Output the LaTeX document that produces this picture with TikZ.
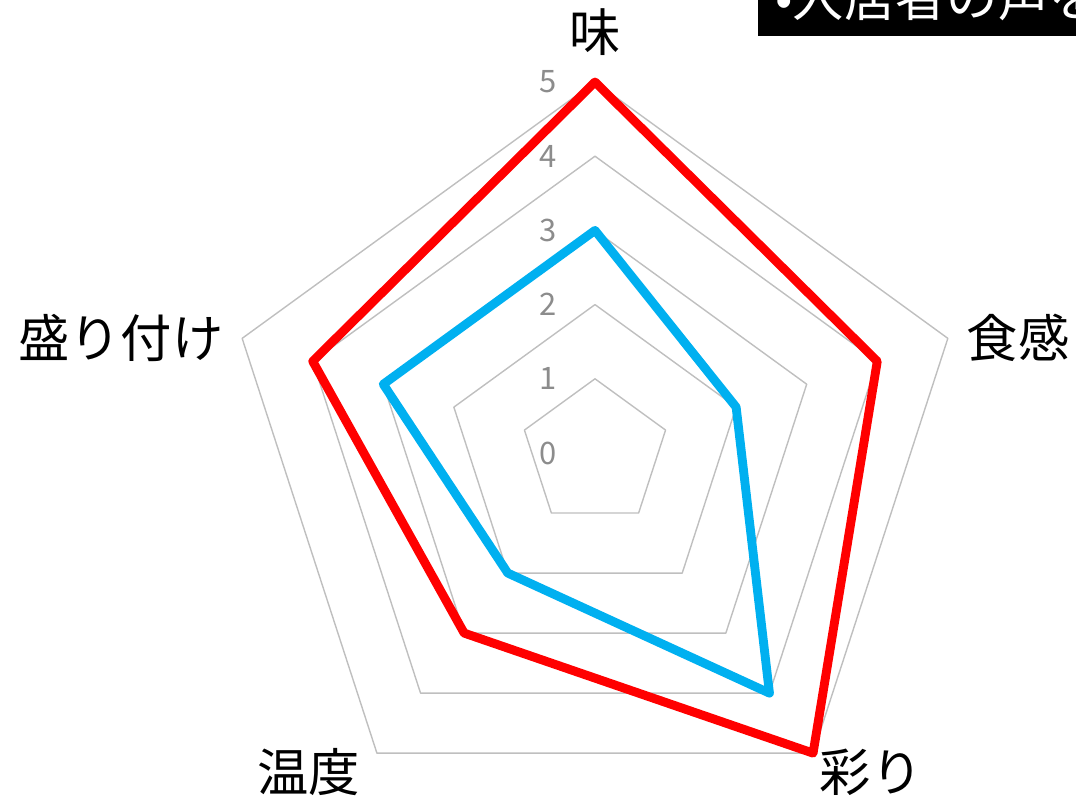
\documentclass[tikz,border=0pt]{standalone}
\usepackage{fontspec}
\setmainfont{Noto Sans CJK JP}
\usetikzlibrary{positioning}
\definecolor{gridgray}{HTML}{BFBFBF}
\definecolor{ticgray}{HTML}{8C8C8C}
\definecolor{seriesblue}{HTML}{00B0F0}
\definecolor{seriesred}{HTML}{FF0000}

\begin{document}
\begin{tikzpicture}[x=0.025cm, y=0.025cm,
        grid line/.style={gridgray, line width=1pt, line join=round},
        tick label/.style={ticgray, inner sep=0pt, font=\fontsize{22}{22}\selectfont},
        axis label/.style={inner sep=0pt, font=\fontsize{36.5}{36.5}\selectfont},
        series/.style={line width=6.3pt, line join=round}]

    \useasboundingbox (-595,-345) rectangle (481,453);
    \clip (-595,-345) rectangle (481,453);

    % grid pentagons
    \foreach \r in {1,...,5} {
        \draw[grid line] (90:\r*74.2) -- (18:\r*74.2) -- (-54:\r*74.2)
            -- (-126:\r*74.2) -- (-198:\r*74.2) -- cycle;
    }

    % tick labels
    \foreach \r in {0,...,5} {
        \node[tick label] (tic-\r) at (-47,\r*74.2) {\r};
    }

    % axis labels
    \node[axis label] (taste) at (0,421) {味};
    \node[axis label] (texture) at (423,115) {食感};
    \node[axis label] (colour) at (276,-319) {彩り};
    \node[axis label] (temp) at (-286,-319) {温度};
    \node[axis label] (plating) at (-474,115) {盛り付け};

    % data series
    \foreach \v [count=\k from 0] in {3,2,4,2,3} {
        \coordinate (blue-\k) at (90-72*\k:\v*74.2);
    }
    \foreach \v [count=\k from 0] in {5,4,5,3,4} {
        \coordinate (red-\k) at (90-72*\k:\v*74.2);
    }
    \draw[series, seriesblue] (blue-0) -- (blue-1) -- (blue-2) -- (blue-3) -- (blue-4) -- cycle;
    \draw[series, seriesred] (red-0) -- (red-1) -- (red-2) -- (red-3) -- (red-4) -- cycle;

    % heading box, cut by the page edge
    \fill[black] (163,417) rectangle (500,470);
    \node[anchor=base west, white, inner sep=0pt, font=\fontsize{36.5}{36.5}\selectfont]
        (voice) at (180,436) {•入居者の声を};
\end{tikzpicture}
\end{document}
